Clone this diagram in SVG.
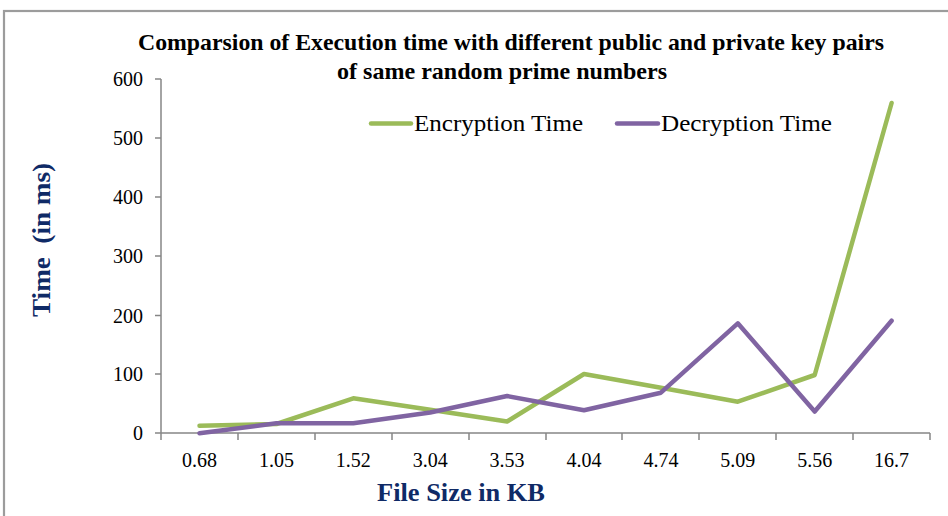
<svg xmlns="http://www.w3.org/2000/svg" width="948" height="516" viewBox="0 0 948 516">
  <style>
    .frame { fill: #ffffff; stroke: #9c9c9c; stroke-width: 2.2; }
    .axis { stroke: #868686; stroke-width: 1.5; fill: none; }
    text { font-family: 'Liberation Serif', serif; }
    .tick { font-size: 20px; fill: #000; }
    .title { font-size: 24px; font-weight: bold; fill: #000; text-anchor: middle; }
    .axtitle { font-size: 25px; font-weight: bold; fill: #0f2a66; text-anchor: middle; white-space: pre; }
    .legend { font-size: 23px; fill: #000; }
    .enc { stroke: #9bbb59; stroke-width: 4.5; fill: none; stroke-linejoin: round; stroke-linecap: round; }
    .dec { stroke: #8064a2; stroke-width: 4.5; fill: none; stroke-linejoin: round; stroke-linecap: round; }
  </style>

  <!-- chart area frame -->
  <rect class="frame" x="4" y="11" width="980" height="540"/>

  <!-- title -->
  <g id="title">
    <text class="title" x="511" y="50" textLength="746" lengthAdjust="spacingAndGlyphs">Comparsion of Execution time with different public and private key pairs</text>
    <text class="title" x="502" y="79" textLength="330" lengthAdjust="spacingAndGlyphs">of same random prime numbers</text>
  </g>

  <!-- value axis -->
  <g id="y-axis">
    <path class="axis" d="M161 79 V433 M155 79 H161 M155 138 H161 M155 197 H161 M155 256 H161 M155 315.5 H161 M155 374 H161 M155 433 H161"/>
    <g class="tick" text-anchor="end">
      <text x="143" y="86">600</text>
      <text x="143" y="145">500</text>
      <text x="143" y="204">400</text>
      <text x="143" y="263">300</text>
      <text x="143" y="322.5">200</text>
      <text x="143" y="381">100</text>
      <text x="143" y="440">0</text>
    </g>
    <text class="axtitle" transform="translate(50 240) rotate(-90)" textLength="154" lengthAdjust="spacingAndGlyphs">Time&#160;&#160;(in ms)</text>
  </g>

  <!-- category axis -->
  <g id="x-axis">
    <path class="axis" d="M161 433 H930 M161 433 V440 M238 433 V440 M315 433 V440 M392 433 V440 M469 433 V440 M546 433 V440 M622 433 V440 M699 433 V440 M776 433 V440 M853 433 V440 M930 433 V440"/>
    <g class="tick" text-anchor="middle">
      <text x="199.5" y="467">0.68</text>
      <text x="276.4" y="467">1.05</text>
      <text x="353.3" y="467">1.52</text>
      <text x="430.2" y="467">3.04</text>
      <text x="507.1" y="467">3.53</text>
      <text x="584" y="467">4.04</text>
      <text x="660.9" y="467">4.74</text>
      <text x="737.8" y="467">5.09</text>
      <text x="814.7" y="467">5.56</text>
      <text x="891.6" y="467">16.7</text>
    </g>
    <text class="axtitle" x="461" y="501" textLength="168" lengthAdjust="spacingAndGlyphs">File Size in KB</text>
  </g>

  <!-- data series -->
  <g id="series">
    <polyline id="encryption-series" class="enc" points="199.5,425.7 276.4,424 353.3,398.3 430.2,409.8 507.1,421.5 584,374 660.9,387.8 737.8,401.7 814.7,375 891.6,103"/>
    <polyline id="decryption-series" class="dec" points="199.5,433.3 276.4,423.3 353.3,423.3 430.2,412.5 507.1,396 584,410.3 660.9,392.7 737.8,323.3 814.7,411.5 891.6,320.7"/>
  </g>

  <!-- legend -->
  <g id="legend">
    <line class="enc" x1="371" y1="123.5" x2="411" y2="123.5"/>
    <text class="legend" x="414" y="131" textLength="169" lengthAdjust="spacingAndGlyphs">Encryption Time</text>
    <line class="dec" x1="617" y1="123.5" x2="658" y2="123.5"/>
    <text class="legend" x="661" y="131" textLength="171" lengthAdjust="spacingAndGlyphs">Decryption Time</text>
  </g>
</svg>
